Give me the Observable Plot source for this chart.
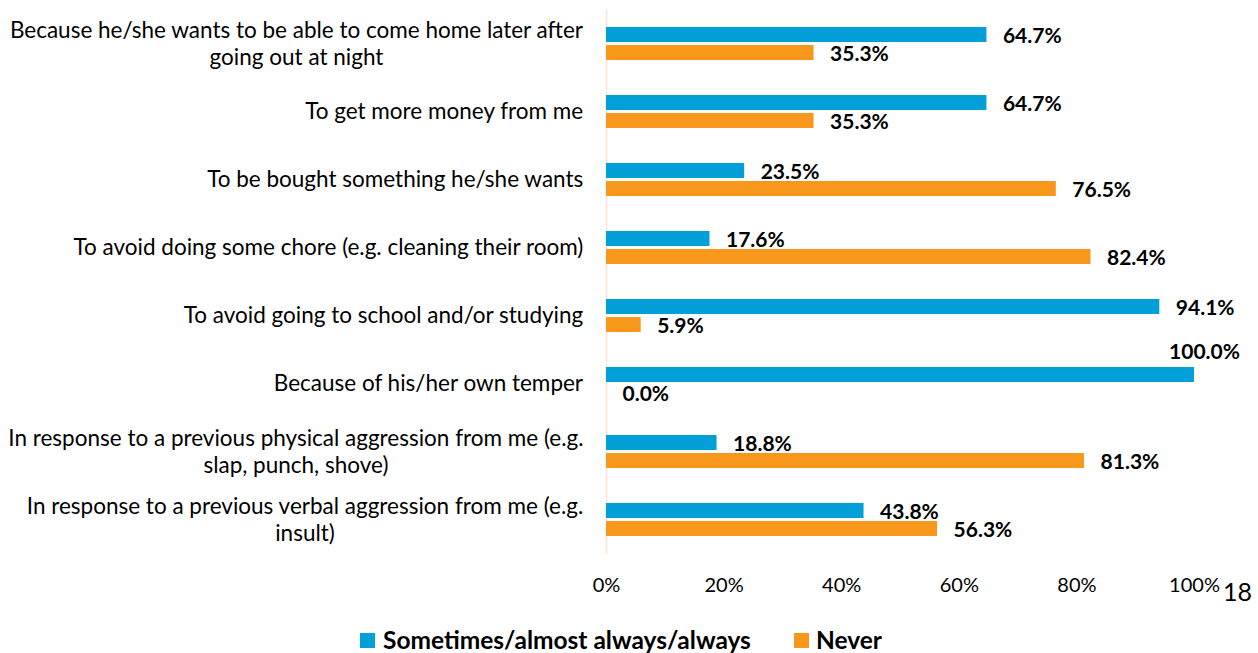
<!DOCTYPE html>
<html>
<head>
<meta charset="utf-8">
<script src="https://cdn.jsdelivr.net/npm/d3@7"></script>
<script src="https://cdn.jsdelivr.net/npm/@observablehq/plot@0.6"></script>
<style>
  html, body { margin: 0; padding: 0; background: #fff; }
  body { width: 1258px; height: 653px; position: relative; overflow: hidden; font-family: Lato, "Open Sans", sans-serif; }
  #chart svg { display: block; }
  #legend { position: absolute; left: 360px; top: 628px; height: 24px; display: flex; align-items: center; font-weight: bold; font-size: 24.5px; line-height: 24px; color: #000; }
  .item { display: flex; align-items: center; }
  .sw { width: 15px; height: 15px; margin-right: 8px; }
  #page { position: absolute; left: 1223px; top: 576px; font-size: 25px; color: #000; }
</style>
</head>
<body>
<div id="chart"></div>
<div id="legend"></div>
<div id="page">18</div>
<script>
const categories = [
  "Because he/she wants to be able to come home later after\ngoing out at night",
  "To get more money from me",
  "To be bought something he/she wants",
  "To avoid doing some chore (e.g. cleaning their room)",
  "To avoid going to school and/or studying",
  "Because of his/her own temper",
  "In response to a previous physical aggression from me (e.g.\nslap, punch, shove)",
  "In response to a previous verbal aggression from me (e.g.\ninsult)"
];
const series = ["Sometimes/almost always/always", "Never"];
const sometimes = [64.7, 64.7, 23.5, 17.6, 94.1, 100.0, 18.8, 43.8];
const never = [35.3, 35.3, 76.5, 82.4, 5.9, 0.0, 81.3, 56.3];
const xTicks = [0, 20, 40, 60, 80, 100];
const colors = ["#029FD9", "#F7981C"];

function render() {
  const rows = categories.flatMap((c, i) => [
    {category: c, series: series[0], value: sometimes[i]},
    {category: c, series: series[1], value: never[i]}
  ]);

  const labelSize = 22.5;
  const ctx = document.createElement("canvas").getContext("2d");
  ctx.font = labelSize + "px Lato";
  const blockWidth = categories.map(c => d3.max(c.split("\n"), l => ctx.measureText(l).width));

  const labelMarks = categories.map((c, i) =>
    Plot.text([c], {
      fy: d => d,
      text: d => d,
      frameAnchor: "left",
      textAnchor: "middle",
      dx: -(23 + blockWidth[i] / 2),
      dy: -2,
      lineHeight: 1.2,
      fill: "#000",
      fontSize: labelSize
    })
  );

  const fmt = d => d.value.toFixed(1) + "%";

  const chart = Plot.plot({
    width: 1258,
    height: 602,
    marginLeft: 606,
    marginRight: 64,
    marginTop: 8,
    marginBottom: 46,
    style: {fontFamily: "Lato, 'Open Sans', sans-serif", fontSize: "20px", color: "#000", background: "#fff"},
    x: {domain: [0, 100], ticks: xTicks, tickFormat: d => d + "%", tickSize: 0, tickPadding: 23, label: null},
    y: {domain: series, axis: null, paddingInner: 0.16, paddingOuter: 0.88},
    fy: {domain: categories, padding: 0, axis: null},
    color: {domain: series, range: colors},
    marks: [
      Plot.ruleX([0], {stroke: "#FBE2D2", strokeWidth: 1.5}),
      Plot.barX(rows, {x: "value", y: "series", fy: "category", fill: "series"}),
      Plot.text(rows.filter(d => d.value < 100), {
        x: "value", y: "series", fy: "category", text: fmt,
        textAnchor: "start", dx: 16, dy: 1, fontWeight: "bold", fill: "#000", fontSize: 21
      }),
      Plot.text(rows.filter(d => d.value >= 100), {
        x: "value", y: "series", fy: "category", text: fmt,
        textAnchor: "middle", dx: 10, dy: -23, fontWeight: "bold", fill: "#000", fontSize: 21
      }),
      ...labelMarks
    ]
  });
  document.getElementById("chart").appendChild(chart);

  const legend = document.getElementById("legend");
  series.forEach((s, i) => {
    const item = document.createElement("div");
    item.className = "item";
    if (i > 0) item.style.marginLeft = "43px";
    const sw = document.createElement("div");
    sw.className = "sw";
    sw.style.background = colors[i];
    if (i > 0) sw.style.marginRight = "7px";
    const t = document.createElement("span");
    t.textContent = s;
    item.appendChild(sw);
    item.appendChild(t);
    legend.appendChild(item);
  });
}

if (document.fonts && document.fonts.load) {
  Promise.all([document.fonts.load("22px Lato"), document.fonts.load("bold 22px Lato")]).then(render, render);
} else {
  render();
}
</script>
</body>
</html>
